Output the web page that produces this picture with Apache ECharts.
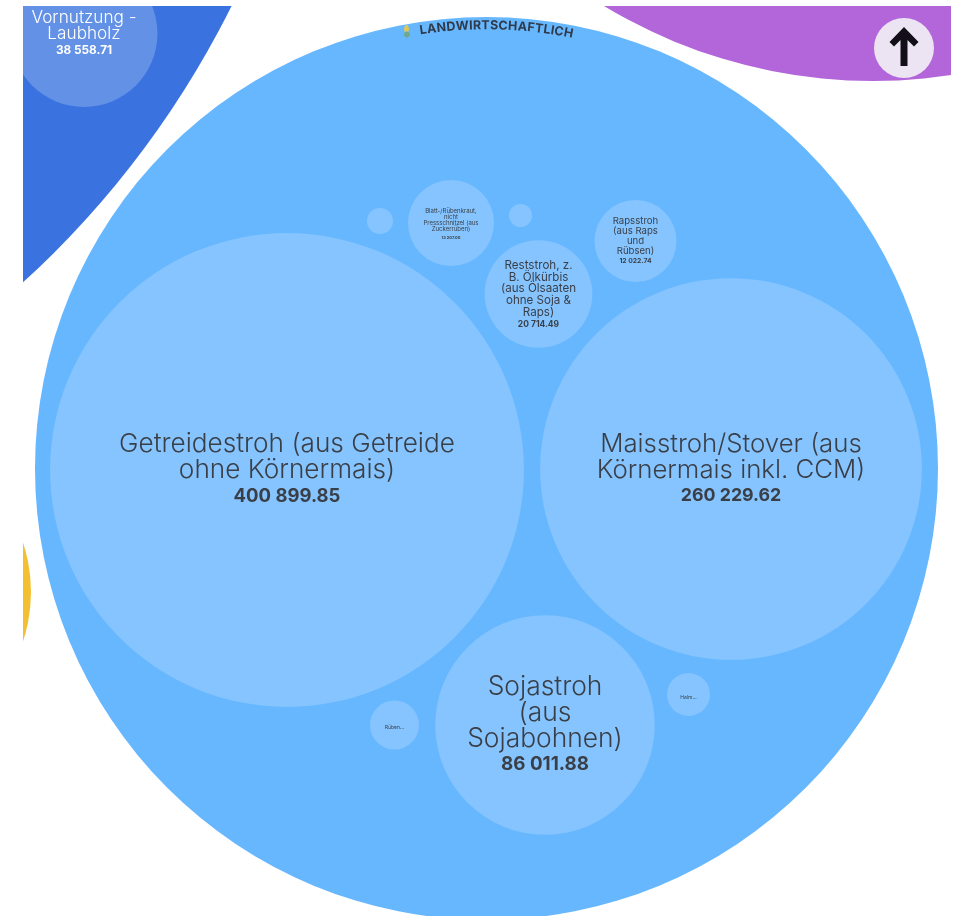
<!DOCTYPE html>
<html>
<head>
<meta charset="utf-8">
<title>Landwirtschaftlich</title>
<script src="https://cdn.jsdelivr.net/npm/echarts@6/dist/echarts.min.js"></script>
<style>
html, body { margin: 0; padding: 0; background: #fff; }
/* the reference is a soft upscaled capture */
#chart { width: 961px; height: 916px; filter: blur(0.5px); }
</style>
</head>
<body>
<div id="chart"></div>
<script>
// values, the unlabelled ones come from the circle area
const leafNames = [
    "Getreidestroh (aus Getreide\nohne Körnermais)",
    "Maisstroh/Stover (aus\nKörnermais inkl. CCM)",
    "Sojastroh\n(aus\nSojabohnen)",
    "Reststroh, z.\nB. Ölkürbis\n(aus Ölsaaten\nohne Soja &\nRaps)",
    "Rapsstroh\n(aus Raps\nund\nRübsen)",
    "Blatt-/Rübenkraut,\nnicht\nPressschnitzel (aus\nZuckerrüben)",
    "Rüben...",
    "Halm...",
    "",
    "",
    "Vornutzung -\nLaubholz"
];
const leafValues = [400899.85, 260229.62, 86011.88, 20714.49, 12022.74, 13207, 4287, 3300, 1207, 945, 38558.71];
const leafValueLabels = ["400 899.85", "260 229.62", "86 011.88", "20 714.49", "12 022.74", "13 207.00", "", "", "", "", "38 558.71"];
const groupTitle = "LANDWIRTSCHAFTLICH";

// pack layout, in axis units (the axes run in page pixels)
const leafX = [287, 731, 545, 538.5, 635.5, 451, 394.5, 688.5, 380, 520.5, 84];
const leafY = [470, 469, 725, 294, 241, 223, 725, 694.5, 221, 215.5, 33.5];
const leafGroup = [0, 0, 0, 0, 0, 0, 0, 0, 0, 0, 1];
const groupX = [486.5, -611, 873, -126];
const groupY = [468.5, -413, -439, 592];
const groupR = [451.5, 941, 520, 157];

// label placement
const nameY = [457, 457, 713, 289, 236, 220, 727, 697.5, 0, 0, 26];
const valueY = [496, 496, 764, 324, 261, 238, 0, 0, 0, 0, 50.5];
const nameSize = [26.2, 25.8, 26.4, 11.6, 9.6, 6, 5, 5, 0, 0, 17.2];
const nameLine = [26, 26, 26, 11.6, 10, 6, 5, 5, 0, 0, 16];
const valueSize = [18.5, 17.8, 18.8, 8.5, 6.8, 4, 0, 0, 0, 0, 11.8];

const groupColors = ["#67b7ff", "#3a73e0", "#b266d9", "#f3c033"];
const leafColors = ["#85c4ff", "#6391e6"];
const inkColors = ["#3a3f47", "#ffffff"];
const AREA_PER_VALUE = 0.14;

const chart = echarts.init(document.getElementById("chart"), null, { renderer: "canvas" });

function radiusOf(value, api) {
    return api.size([Math.sqrt(value * AREA_PER_VALUE), 0])[0];
}

function renderGroup(params, api) {
    const c = api.coord([api.value(0), api.value(1)]);
    const r = api.size([api.value(2), 0])[0];
    return {
        type: "circle",
        shape: { cx: c[0], cy: c[1], r: r },
        style: { fill: groupColors[params.dataIndex] }
    };
}

function renderLeaf(params, api) {
    const i = params.dataIndex;
    const c = api.coord([api.value(0), api.value(1)]);
    const g = leafGroup[i];
    const children = [{
        type: "circle",
        shape: { cx: c[0], cy: c[1], r: radiusOf(api.value(2), api) },
        style: { fill: leafColors[g] }
    }];
    if (leafNames[i]) {
        // small labels need the heavier cut to stay readable
        const weight = nameSize[i] < 12 ? 400 : 300;
        children.push({
            type: "text",
            x: c[0],
            y: api.coord([0, nameY[i]])[1],
            style: {
                text: leafNames[i],
                fill: inkColors[g],
                font: `${weight} ${nameSize[i]}px Inter, "Noto Sans", sans-serif`,
                lineHeight: nameLine[i],
                align: "center",
                verticalAlign: "middle"
            }
        });
    }
    if (leafValueLabels[i]) {
        children.push({
            type: "text",
            x: c[0],
            y: api.coord([0, valueY[i]])[1],
            style: {
                text: leafValueLabels[i],
                fill: inkColors[g],
                font: `700 ${valueSize[i]}px Inter, sans-serif`,
                align: "center",
                verticalAlign: "middle"
            }
        });
    }
    return { type: "group", children: children };
}

// title follows the rim of the main circle, letter by letter
const titleRadius = 443;
const titleFont = '700 12.5px Inter, sans-serif';
const titleStart = -8.7 * Math.PI / 180;
const titleEnd = 11.3 * Math.PI / 180;
const measureCtx = document.createElement("canvas").getContext("2d");
measureCtx.font = titleFont;
const titleLetters = groupTitle.split("");
const titleWidths = titleLetters.map(l => measureCtx.measureText(l).width);
const titleTotal = titleWidths.reduce((a, b) => a + b, 0);

function renderTitleLetter(params, api) {
    const i = params.dataIndex;
    const before = titleWidths.slice(0, i).reduce((a, b) => a + b, 0) + titleWidths[i] / 2;
    const angle = titleStart + (titleEnd - titleStart) * before / titleTotal;
    const p = api.coord([
        groupX[0] + titleRadius * Math.sin(angle),
        groupY[0] - titleRadius * Math.cos(angle)
    ]);
    return {
        type: "text",
        x: p[0],
        y: p[1],
        rotation: -angle,
        style: {
            text: titleLetters[i],
            fill: "#2f3a4a",
            font: titleFont,
            align: "center",
            verticalAlign: "middle"
        }
    };
}

// small plant in front of the title and the arrow button
function renderDecor(params, api) {
    const s = api.coord([407, 31]);
    const b = api.coord([904, 48]);
    const arrow = [
        [0, -21], [14.5, -6], [10, -1.5], [3.5, -8], [3.5, 18],
        [-3.5, 18], [-3.5, -8], [-10, -1.5], [-14.5, -6]
    ];
    return {
        type: "group",
        children: [
            { type: "ellipse", shape: { cx: s[0] - 0.5, cy: s[1] - 2, rx: 2.5, ry: 4 }, style: { fill: "#d9c85a" } },
            { type: "ellipse", shape: { cx: s[0], cy: s[1] + 3.5, rx: 3, ry: 3 }, style: { fill: "#6fa88a" } },
            { type: "circle", shape: { cx: b[0], cy: b[1], r: 30 }, style: { fill: "#ece4f2" } },
            {
                type: "polygon",
                shape: { points: arrow.map(p => [b[0] + p[0], b[1] + p[1]]) },
                style: { fill: "#120f18" }
            }
        ]
    };
}

chart.setOption({
    animation: false,
    backgroundColor: "#fff",
    grid: { left: 23, top: 6, width: 928, height: 910 },
    xAxis: { type: "value", min: 23, max: 951, show: false },
    yAxis: { type: "value", min: 6, max: 916, inverse: true, show: false },
    series: [
        {
            type: "custom",
            clip: true,
            renderItem: renderGroup,
            data: groupX.map((x, i) => [x, groupY[i], groupR[i]])
        },
        {
            type: "custom",
            clip: true,
            renderItem: renderLeaf,
            data: leafValues.map((v, i) => [leafX[i], leafY[i], v])
        },
        {
            type: "custom",
            clip: true,
            renderItem: renderTitleLetter,
            data: titleLetters.map((l, i) => [i, 0])
        },
        {
            type: "custom",
            clip: true,
            renderItem: renderDecor,
            data: [[0, 0]]
        }
    ]
});
</script>
</body>
</html>
